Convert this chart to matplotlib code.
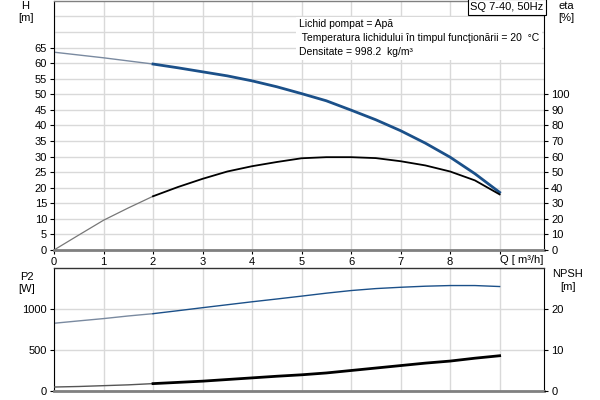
import numpy as np
import matplotlib.pyplot as plt

plt.rcParams['font.family'] = ['Liberation Sans', 'DejaVu Sans']

# Q in m3/h, read every 0.5
q = [0, 0.5, 1, 1.5, 2, 2.5, 3, 3.5, 4, 4.5, 5, 5.5, 6, 6.5, 7, 7.5, 8, 8.5, 9]
head = [63.5, 62.6, 61.7, 60.7, 59.7, 58.5, 57.2, 55.9, 54.3, 52.4,
        50.2, 47.9, 44.9, 41.8, 38.3, 34.3, 29.8, 24.5, 18.5]
eta = [0, 9.6, 19.1, 27, 34.5, 40.4, 45.7, 50.4, 53.8, 56.5,
       58.9, 59.6, 59.6, 59, 57, 54.3, 50.4, 44.7, 35.7]
p2 = [826, 855, 883, 915, 943, 979, 1016, 1052, 1088, 1122,
      1157, 1193, 1225, 1249, 1265, 1278, 1286, 1286, 1274]
npsh = [0.97, 1.1, 1.3, 1.5, 1.8, 2.1, 2.4, 2.8, 3.2, 3.6,
        3.95, 4.4, 5.0, 5.6, 6.2, 6.8, 7.3, 8.0, 8.6]

blue = '#1b5089'
grid_c = '#d9d9d9'
split = 4  # index of Q = 2, start of duty range

fig = plt.figure(figsize=(6, 4), dpi=100)
ax1 = fig.add_axes([0.09, 0.375, 0.817, 0.623])
ax2 = fig.add_axes([0.09, 0.0225, 0.817, 0.3075])

def style(ax):
    for s in ['top', 'bottom']:
        ax.spines[s].set_color('#808080')
    ax.spines['bottom'].set_linewidth(2)
    ax.spines['top'].set_linewidth(1)
    ax.spines['left'].set_color('black')
    ax.spines['right'].set_color('black')
    ax.set_xlim(0, 9.9)
    ax.set_xticks(range(0, 10))
    ax.grid(True, which='both', color=grid_c, lw=1)
    ax.set_axisbelow(True)
    ax.tick_params(labelsize=8, length=3, width=0.8, pad=2)

# upper: H and eta
style(ax1)
ax1.set_ylim(0, 80)
ax1.set_yticks(range(0, 70, 5))
ax1.set_yticks([70, 75], minor=True)
ax1.tick_params(axis='y', which='minor', length=0)
ax1.set_xticklabels([str(v) for v in range(0, 9)] + [''])

ax1.plot(q[:split + 1], head[:split + 1], color='#7a8aa0', lw=1)
ax1.plot(q[split:], head[split:], color=blue, lw=2)

ax1e = ax1.twinx()
ax1e.set_ylim(0, 160)
ax1e.set_yticks(range(0, 110, 10))
ax1e.tick_params(labelsize=8, length=3, width=0.8, pad=2)
for s in ax1e.spines.values():
    s.set_visible(False)
ax1e.plot(q[:split + 1], eta[:split + 1], color='#777777', lw=0.9)
ax1e.plot(q[split:], eta[split:], color='black', lw=1.3)

ax1.text(9.0, -1.5, 'Q [ m³/h]', fontsize=8, ha='left', va='top')
ax1.text(-0.058, 1.0, 'H\n[m]', transform=ax1.transAxes, fontsize=8,
         ha='center', va='top', linespacing=1.3)
ax1.text(1.045, 1.0, 'eta\n[%]', transform=ax1.transAxes, fontsize=8,
         ha='center', va='top', linespacing=1.3)
ax1.text(0.999, 0.995, 'SQ 7-40, 50Hz', transform=ax1.transAxes, fontsize=8,
         ha='right', va='top',
         bbox=dict(facecolor='white', edgecolor='black', lw=0.8, pad=2))
ax1.text(0.499, 0.925,
         'Lichid pompat = Apă\n Temperatura lichidului în timpul funcţionării = 20  °C\nDensitate = 998.2  kg/m³',
         transform=ax1.transAxes, fontsize=7.5, ha='left', va='top',
         linespacing=1.45,
         bbox=dict(facecolor='white', edgecolor='none', pad=2))

# lower: P2 and NPSH
style(ax2)
ax2.set_ylim(0, 1500)
ax2.set_yticks([0, 500, 1000])
ax2.set_xticklabels([])
ax2.tick_params(axis='x', length=0)
ax2.spines['top'].set_color('#333333')
ax2.plot(q[:split + 1], p2[:split + 1], color='#7a8aa0', lw=1)
ax2.plot(q[split:], p2[split:], color=blue, lw=1)

ax2n = ax2.twinx()
ax2n.set_ylim(0, 30)
ax2n.set_yticks([0, 10, 20])
ax2n.tick_params(labelsize=8, length=3, width=0.8, pad=2)
for s in ax2n.spines.values():
    s.set_visible(False)
ax2n.plot(q[:split + 1], npsh[:split + 1], color='#555555', lw=1)
ax2n.plot(q[split:], npsh[split:], color='black', lw=2)

ax2.text(-0.055, 0.97, 'P2\n[W]', transform=ax2.transAxes, fontsize=8,
         ha='center', va='top', linespacing=1.3)
ax2.text(1.048, 0.99, 'NPSH\n[m]', transform=ax2.transAxes, fontsize=8,
         ha='center', va='top', linespacing=1.3)

fig.savefig('out.png', dpi=100)
